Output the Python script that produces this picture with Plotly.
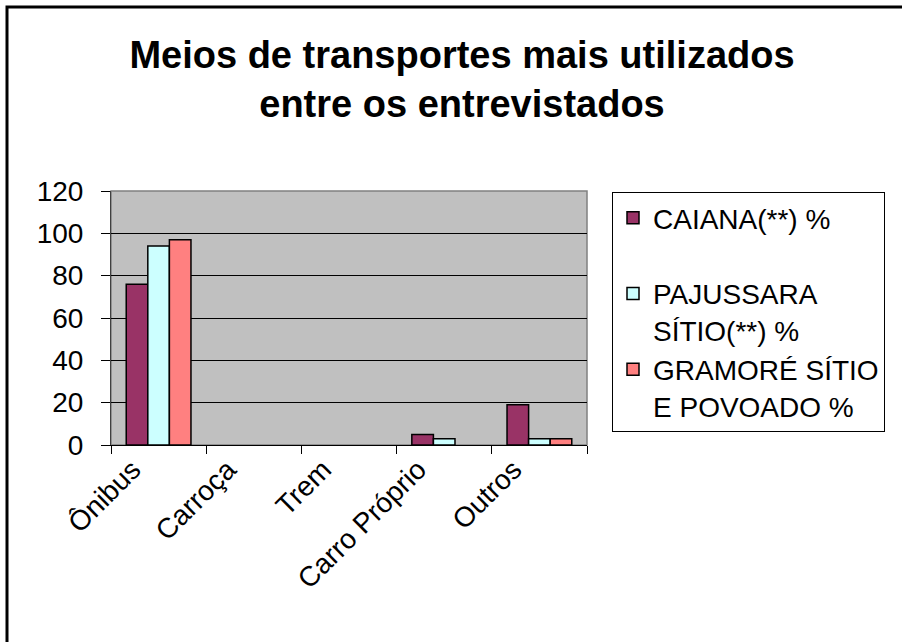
import plotly.graph_objects as go

categories = ["Ônibus", "Carroça", "Trem", "Carro Próprio", "Outros"]
series_names = ["CAIANA(**) %<br>&nbsp;", "PAJUSSARA<br>SÍTIO(**) %", "GRAMORÉ SÍTIO<br>E POVOADO %"]
# blank cells in the source sheet are left as None
caiana = [76, None, None, 5, 19]
pajussara = [94, None, None, 3, 3]
gramore = [97, None, None, None, 3]
colors = ["#993366", "#CCFFFF", "#FF8080"]

W, H = 902, 642
L, R, T, B = 111, 587, 191, 445


def px(x):
    return (x - L) / (R - L)


def py(y):
    return (B - y) / (B - T)


fig = go.Figure()
for name, vals, col in zip(series_names, [caiana, pajussara, gramore], colors):
    fig.add_trace(go.Bar(
        x=categories, y=vals, name=name,
        marker=dict(color=col, line=dict(color="black", width=1.5)),
    ))

font = "Arial, Liberation Sans, sans-serif"

fig.update_layout(
    width=W, height=H,
    margin=dict(l=L, r=W - R, t=T, b=H - B),
    paper_bgcolor="white",
    plot_bgcolor="#C0C0C0",
    barmode="group",
    bargap=0.32,
    bargroupgap=0,
    font=dict(family=font, size=28, color="black"),
    title=dict(
        text="<b>Meios de transportes mais utilizados<br>entre os entrevistados</b>",
        font=dict(size=38, family=font),
        x=462 / W, xanchor="center", xref="container",
        y=1 - 68 / H, yanchor="top", yref="container",
    ),
    xaxis=dict(
        showline=True, linecolor="black", linewidth=1,
        ticks="outside", tickson="boundaries", ticklen=8, tickcolor="black",
        tickangle=-45, showgrid=False,
        ticklabelshift=-26, ticklabelstandoff=-4,
        tickfont=dict(size=28),
    ),
    yaxis=dict(
        range=[0, 120], dtick=20, tick0=0,
        showline=True, linecolor="#404040", linewidth=1,
        ticks="outside", ticklen=9, tickcolor="black",
        gridcolor="black", gridwidth=1, zeroline=False,
        ticklabelstandoff=12,
        tickfont=dict(size=28),
    ),
    legend=dict(
        x=px(612), y=py(192), xanchor="left", yanchor="top",
        bordercolor="black", borderwidth=1, bgcolor="white",
        font=dict(size=28), valign="top",
        itemwidth=30, tracegroupgap=0,
    ),
    shapes=[
        dict(type="rect", xref="paper", yref="paper", layer="below",
             x0=0, x1=1, y0=0, y1=1, line=dict(color="#808080", width=1.5)),
        dict(type="rect", xref="paper", yref="paper",
             x0=px(7), x1=px(912), y0=py(652), y1=py(7),
             line=dict(color="black", width=3)),
    ],
)

fig.write_html("out.html", config={"displayModeBar": False},
               post_script="document.body.style.margin='0';")
